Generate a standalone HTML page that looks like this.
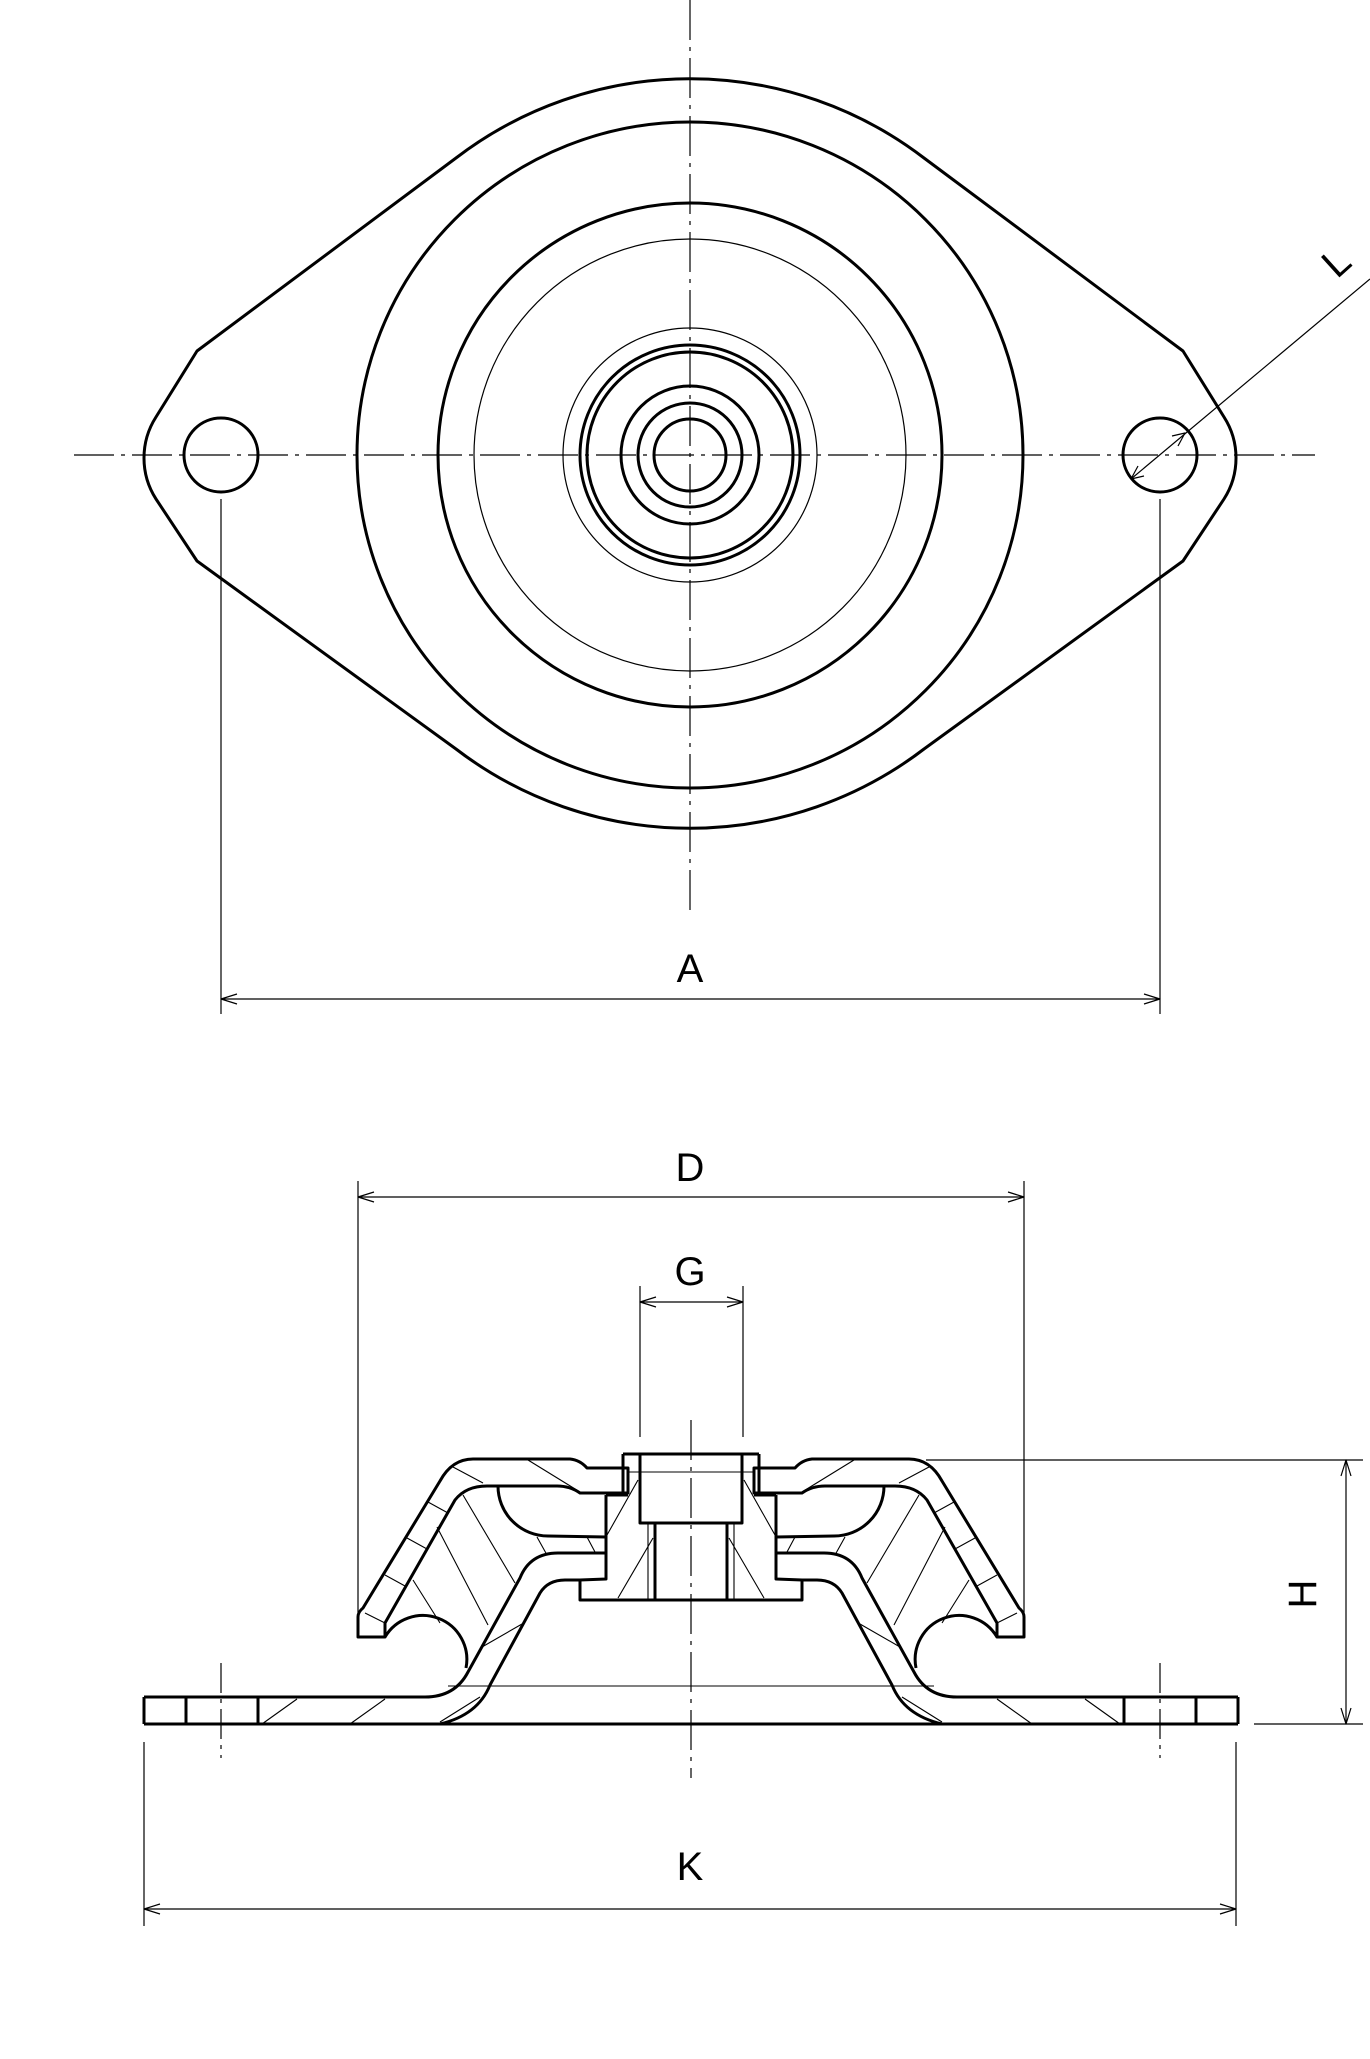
<!DOCTYPE html>
<html><head><meta charset="utf-8"><style>
html,body{margin:0;padding:0;background:#fff;}
svg{display:block;}
text{font-family:"Liberation Sans",sans-serif;font-size:40px;fill:#000;}
</style></head><body>
<svg width="1370" height="2059" viewBox="0 0 1370 2059" xmlns="http://www.w3.org/2000/svg">
<g fill="none" stroke="#000" stroke-linejoin="round">
<g stroke-width="3">
<path d="M456,158 A385,385 0 0 1 924,158 L1183,351 L1224,417 A76,76 0 0 1 1224,499 L1183,561 L924,749 A385,385 0 0 1 456,749 L197,561 L156,499 A76,76 0 0 1 156,417 L197,351 Z"/>
<circle cx="221" cy="455" r="37"/>
<circle cx="1160" cy="455" r="37"/>
<circle cx="690" cy="455" r="333"/>
<circle cx="690" cy="455" r="252"/>
<circle cx="690" cy="455" r="110"/>
<circle cx="690" cy="455" r="103"/>
<circle cx="690" cy="455" r="69"/>
<circle cx="690" cy="455" r="52"/>
<circle cx="690" cy="455" r="36"/>
</g>
<g stroke-width="1.2">
<circle cx="690" cy="455" r="216"/>
<circle cx="690" cy="455" r="127"/>
</g>
<g stroke-width="1.2" stroke-dasharray="40 7 4 7">
<line x1="690" y1="0" x2="690" y2="913"/>
<line x1="74" y1="455" x2="1315" y2="455"/>
<line x1="691" y1="1420" x2="691" y2="1778"/>
<line x1="221" y1="1663" x2="221" y2="1758" stroke-dasharray="30 6 4 6"/>
<line x1="1160" y1="1663" x2="1160" y2="1758" stroke-dasharray="30 6 4 6"/>
</g>
<g stroke-width="1.2">
<line x1="1370" y1="279" x2="1131" y2="479"/>
<path d="M1172,436 L1185,433 L1178,446"/>
<path d="M1144,476 L1131,479 L1138,466"/>
<line x1="221" y1="499" x2="221" y2="1014"/>
<line x1="1160" y1="499" x2="1160" y2="1014"/>
<line x1="221" y1="999" x2="1160" y2="999"/>
<path d="M237,994 L221,999 L237,1004 M1144,994 L1160,999 L1144,1004"/>
<line x1="358" y1="1181" x2="358" y2="1614"/>
<line x1="1024" y1="1181" x2="1024" y2="1614"/>
<line x1="358" y1="1197" x2="1024" y2="1197"/>
<path d="M374,1192 L358,1197 L374,1202 M1008,1192 L1024,1197 L1008,1202"/>
<line x1="640" y1="1286" x2="640" y2="1437"/>
<line x1="743" y1="1286" x2="743" y2="1437"/>
<line x1="640" y1="1302" x2="743" y2="1302"/>
<path d="M656,1297 L640,1302 L656,1307 M727,1297 L743,1302 L727,1307"/>
<line x1="926" y1="1460" x2="1363" y2="1460"/>
<line x1="1254" y1="1724" x2="1363" y2="1724"/>
<line x1="1346" y1="1460" x2="1346" y2="1724"/>
<path d="M1341,1476 L1346,1460 L1351,1476 M1341,1708 L1346,1724 L1351,1708"/>
<line x1="144" y1="1742" x2="144" y2="1926"/>
<line x1="1236" y1="1742" x2="1236" y2="1926"/>
<line x1="144" y1="1909" x2="1236" y2="1909"/>
<path d="M160,1904 L144,1909 L160,1914 M1220,1904 L1236,1909 L1220,1914"/>
</g>
<g id="half">
<g stroke-width="3">
<path d="M358,1637 L358,1617 Q358,1612 363,1608 L440,1481 Q452,1459 473,1459 L570,1459 Q580,1460 587,1468 L628,1468 L628,1493 L580,1493 Q570,1486 557,1486 L487,1486 Q466,1486 455,1500 L385,1623 L385,1637 Z"/>
<path d="M623,1454 L691,1454 M623,1454 L623,1493 M640,1454 L640,1523 L691,1523 M655,1523 L655,1600"/>
<path d="M606,1495 L606,1579 M606,1495 L628,1495 M580,1580 L580,1600 L691,1600"/>
<path d="M498,1486 A50,50 0 0 0 548,1536 L606,1537"/>
<path d="M144,1697 L425,1697 Q455,1697 468,1672 L520,1578 Q530,1553 558,1553 L606,1553 L606,1579 L580,1580"/>
<path d="M440,1724 Q478,1715 490,1685 L540,1593 Q548,1580 565,1580 L580,1580"/>
<path d="M144,1724 L691,1724 M144,1697 L144,1724 M186,1697 L186,1724 M258,1697 L258,1724"/>
<path d="M385,1637 A44,44 0 0 1 466,1668"/>
</g>
<g stroke-width="1.1">
<path d="M648,1523 L648,1600 M448,1686 L691,1686"/>
<path d="M262,1724 L297,1699 M350,1724 L385,1699 M440,1722 L480,1697"/>
<path d="M365,1613 L385,1623 M385,1575 L405,1586 M407,1538 L427,1549 M428,1502 L448,1513 M453,1467 L483,1483 M528,1460 L580,1492"/>
<path d="M463,1495 L515,1583 M437,1527 L488,1625 M413,1580 L440,1623 M537,1537 L547,1555 M587,1537 L595,1552 M482,1647 L522,1624"/>
<path d="M607,1535 L638,1480 M618,1598 L653,1538 M628,1472 L691,1472"/>
</g>
</g>
<use href="#half" transform="translate(1382,0) scale(-1,1)"/>
</g>
<g>
<text x="690" y="982" text-anchor="middle">A</text>
<text x="690" y="1181" text-anchor="middle">D</text>
<text x="690" y="1285" text-anchor="middle">G</text>
<text x="690" y="1880" text-anchor="middle">K</text>
<text x="0" y="0" text-anchor="middle" transform="translate(1316,1594) rotate(-90)">H</text>
<text x="-4" y="0" transform="translate(1340,277) rotate(-42)">L</text>
</g>
</svg>
</body></html>
